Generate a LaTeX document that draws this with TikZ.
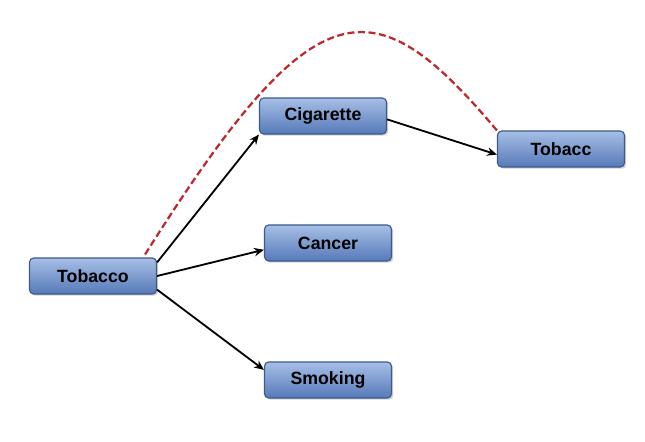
\documentclass[tikz,border=0pt]{standalone}
\usepackage{fontspec}
\setmainfont{Liberation Sans}
\usepackage{xcolor}
\usepackage{tikz}
\usetikzlibrary{calc,arrows.meta,shadows}
\definecolor{bg}{HTML}{FFFFFF}
\definecolor{boxtop}{HTML}{A6BFE6}
\definecolor{boxbot}{HTML}{5679B8}
\definecolor{boxline}{HTML}{3B5B8F}
\definecolor{link}{HTML}{000000}
\definecolor{loop}{HTML}{C0282D}
\tikzset{
  term/.style={draw=boxline, line width=0.8pt, rounded corners=3pt,
    top color=boxtop, bottom color=boxbot, minimum width=3.175cm, minimum height=0.9cm,
    inner sep=0pt, font=\fontsize{12.6}{14}\selectfont\bfseries, text=black,
    drop shadow={shadow xshift=1.2pt, shadow yshift=-1.2pt, opacity=0.35}},
  rel/.style={draw=link, line width=1.3pt, -{Stealth[length=7pt,width=6pt]}},
  hint/.style={draw=loop, line width=1.6pt, dash pattern=on 5pt off 2.5pt},
}
\begin{document}
\begin{tikzpicture}[x=0.025cm,y=-0.025cm]
  \fill[bg] (0,0) rectangle (645,441);
  \useasboundingbox (0,0) rectangle (645,441);
  \node[term] (tobacco) at (93,276) {Tobacco};
  \node[term] (cigarette) at (323,116) {Cigarette};
  \node[term] (cancer) at (328,243) {Cancer};
  \node[term] (smoking) at (328,380) {Smoking};
  \node[term] (tobacc) at (561,149) {Tobacc};
  \draw[hint] ($(tobacco.north east)+(-12,-3)$) .. controls (315,-15) and (372,-18) .. (tobacc.north west);
  \draw[rel] (tobacco.12) -- (cigarette.south west);
  \draw[rel] (tobacco.east) -- (cancer.186);
  \draw[rel] (tobacco.-12) -- (smoking.171);
  \draw[rel] (cigarette.-3) -- (tobacc.185);
\end{tikzpicture}
\end{document}
